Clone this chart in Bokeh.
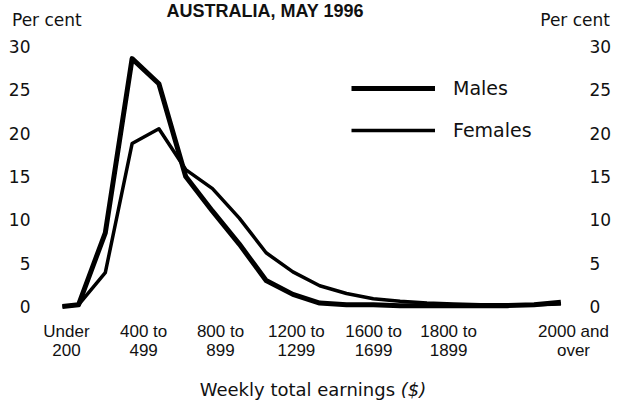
from bokeh.plotting import figure
from bokeh.layouts import column
from bokeh.models import Range1d, LinearAxis, FixedTicker, Legend, LegendItem, Div
from bokeh.embed import file_html
from bokeh.resources import INLINE

# ---- data ----
earnings = [140, 200, 300, 400, 500, 600, 700, 800, 900, 1000, 1100,
            1200, 1300, 1400, 1500, 1600, 1700, 1800, 1900, 2000]
males = [0.0, 0.2, 8.5, 28.6, 25.7, 15.0, 11.0, 7.2, 3.0, 1.4, 0.4,
         0.2, 0.2, 0.1, 0.1, 0.1, 0.1, 0.1, 0.2, 0.5]
females = [0.0, 0.2, 3.9, 18.8, 20.5, 15.8, 13.6, 10.2, 6.2, 4.0, 2.4,
           1.5, 0.9, 0.6, 0.4, 0.3, 0.2, 0.2, 0.2, 0.3]
x_tick_values = [155, 443, 730, 1013, 1301, 1581, 2047]
x_tick_labels = ["Under\n200", "400 to\n499", "800 to\n899", "1200 to\n1299",
                 "1600 to\n1699", "1800 to\n1899", "2000 and\nover"]
y_ticks = [0, 5, 10, 15, 20, 25, 30]
title_text = "AUSTRALIA, MAY 1996"
y_title = "Per cent"
x_title = "Weekly total earnings"
x_unit = "($)"

W = 611
FONT = "Liberation Sans"
FONT2 = "DejaVu Sans"
INK = "#111111"

# ---- geometry helpers (image pixels -> data) ----
PX_PER_DOLLAR = 0.268
def xd(px):
    return 200 + (px - 80) / PX_PER_DOLLAR

PX_PER_PCT = 8.667
def yd(py):
    return (306 - py) / PX_PER_PCT

# ---- header: title and unit labels ----
span = "position:absolute;white-space:nowrap;color:%s;" % INK
head_html = (
    '<div style="position:relative;width:%dpx;height:34px;">' % W
    + '<span style="%sleft:265px;top:2px;transform:translateX(-50%%);'
      'font-family:\'%s\';font-weight:bold;font-size:18px;line-height:18px;">%s</span>'
      % (span, FONT, title_text)
    + '<span style="%sleft:12px;top:12px;font-family:\'%s\';font-size:17px;'
      'line-height:17px;">%s</span>' % (span, FONT2, y_title)
    + '<span style="%sright:1px;top:12px;font-family:\'%s\';font-size:17px;'
      'line-height:17px;">%s</span>' % (span, FONT2, y_title)
    + '</div>')
head = Div(text=head_html, width=W, height=34, margin=0)

# ---- main chart ----
p = figure(frame_width=545, frame_height=276,
           min_border_left=40, min_border_right=26,
           min_border_top=2, min_border_bottom=52,
           x_range=Range1d(xd(42), xd(587)), y_range=Range1d(yd(312), yd(36)),
           output_backend="svg", toolbar_location=None)
p.outline_line_color = None
p.grid.visible = False
p.background_fill_color = "white"
p.border_fill_color = "white"

def style_axis(ax, font, size, standoff):
    ax.axis_line_color = None
    ax.major_tick_line_color = None
    ax.minor_tick_line_color = None
    ax.major_tick_out = 0
    ax.major_tick_in = 0
    ax.minor_tick_out = 0
    ax.minor_tick_in = 0
    ax.major_label_text_font = font
    ax.major_label_text_font_size = size
    ax.major_label_text_color = INK
    ax.major_label_standoff = standoff

p.yaxis.ticker = FixedTicker(ticks=y_ticks)
style_axis(p.yaxis[0], FONT2, "17px", 10)

ra = LinearAxis(ticker=FixedTicker(ticks=y_ticks))
style_axis(ra, FONT2, "17px", 4)
p.add_layout(ra, "right")

p.xaxis.ticker = FixedTicker(ticks=x_tick_values)
p.xaxis.major_label_overrides = {v: t for v, t in zip(x_tick_values, x_tick_labels)}
style_axis(p.xaxis[0], FONT, "17px", 9)
p.xaxis.major_label_text_line_height = 1.05

rm = p.line(earnings, males, line_color="black", line_width=5, line_join="round")
rf = p.line(earnings, females, line_color="black", line_width=3.5, line_join="round")

legend = Legend(items=[LegendItem(label="Males", renderers=[rm]),
                       LegendItem(label="Females", renderers=[rf])],
                location=(311, 171), orientation="vertical",
                glyph_width=84, glyph_height=20, label_height=20,
                label_standoff=18, spacing=20, padding=0, margin=0,
                label_text_font=FONT2, label_text_font_size="19px",
                label_text_color=INK,
                background_fill_alpha=0, border_line_alpha=0)
p.add_layout(legend)

# ---- footer: x axis title ----
foot_html = (
    '<div style="position:relative;width:%dpx;height:35px;">' % W
    + '<span style="%sleft:313px;top:17px;transform:translateX(-50%%);'
      'font-family:\'%s\';font-size:18px;line-height:18px;">%s <i>%s</i></span>'
      % (span, FONT2, x_title, x_unit)
    + '</div>')
foot = Div(text=foot_html, width=W, height=35, margin=0)

layout = column(head, p, foot, spacing=0)
open("out.html", "w").write(file_html(layout, INLINE))
